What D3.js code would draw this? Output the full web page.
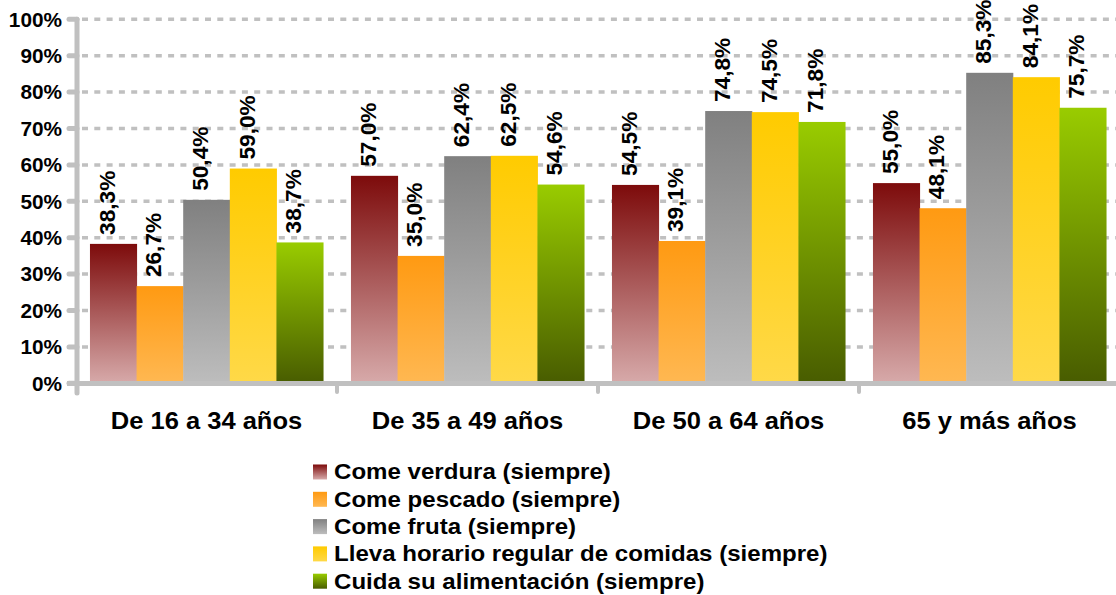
<!DOCTYPE html>
<html><head><meta charset="utf-8">
<script src="https://cdn.jsdelivr.net/npm/d3@7"></script>
<style>body{margin:0;background:#fff}svg{display:block;font-family:Arial,"Liberation Sans",sans-serif;font-weight:bold}</style>
</head><body><svg id="c" width="1116" height="595"></svg>
<script>
const categories = ["De 16 a 34 años","De 35 a 49 años","De 50 a 64 años","65 y más años"];
const seriesNames = ["Come verdura (siempre)","Come pescado (siempre)","Come fruta (siempre)","Lleva horario regular de comidas (siempre)","Cuida su alimentación (siempre)"];
const verdura = [38.3,57.0,54.5,55.0];
const pescado = [26.7,35.0,39.1,48.1];
const fruta = [50.4,62.4,74.8,85.3];
const horario = [59.0,62.5,74.5,84.1];
const cuida = [38.7,54.6,71.8,75.7];
const yTicks = [0,10,20,30,40,50,60,70,80,90,100];
const gradTop = ["#7d0b0b","#ff9a12","#808080","#ffcb00","#99cc00"];
const gradBottom = ["#d7aaaa","#ffb852","#bdbdbd","#ffd948","#485c00"];

const seriesVals = [verdura,pescado,fruta,horario,cuida];
const svg = d3.select("#c");
const defs = svg.append("defs");
seriesNames.forEach((n,i)=>{
  const g = defs.append("linearGradient").attr("id","g"+i).attr("x1",0).attr("y1",0).attr("x2",0).attr("y2",1);
  g.append("stop").attr("offset","0%").attr("stop-color",gradTop[i]);
  g.append("stop").attr("offset","100%").attr("stop-color",gradBottom[i]);
});

const x0 = d3.scaleBand().domain(categories).range([76,1120]).paddingInner(0.107).paddingOuter(0.0535);
const x1 = d3.scaleBand().domain(d3.range(5)).range([0,x0.bandwidth()]);
const y = d3.scaleLinear().domain([0,100]).range([383.3,19.3]);
const grey = "#c0c0c0";

// grid
svg.append("g").selectAll("line").data(yTicks.filter(t=>t>0)).join("line")
  .attr("x1",82).attr("x2",1116).attr("y1",d=>y(d)).attr("y2",d=>y(d))
  .attr("stroke",grey).attr("stroke-width",3.5).attr("stroke-dasharray","6,6.3");

// bars
const gs = svg.append("g").selectAll("g").data(categories).join("g")
  .attr("transform",c=>`translate(${x0(c)},0)`);
gs.each(function(c,ci){
  const g = d3.select(this);
  seriesVals.forEach((vals,si)=>{
    const v = vals[ci];
    g.append("rect").attr("x",x1(si)).attr("width",x1.bandwidth()+0.5)
      .attr("y",y(v)).attr("height",y(0)-y(v)).attr("fill",`url(#g${si})`);
    g.append("text").attr("transform",`translate(${x1(si)+x1.bandwidth()/2+1.5},${y(v)-9}) rotate(-90) scale(1.03,1)`)
      .attr("font-size",22).attr("fill","#000")
      .text(d3.format(".1f")(v).replace(".",",")+"%");
  });
});

// y axis
const ya = svg.append("g");
ya.append("line").attr("x1",77).attr("x2",77).attr("y1",y(100)).attr("y2",393)
  .attr("stroke",grey).attr("stroke-width",5).attr("stroke-linecap","round");
ya.selectAll("line.t").data(yTicks).join("line").attr("class","t")
  .attr("x1",69).attr("x2",77).attr("y1",d=>y(d)).attr("y2",d=>y(d))
  .attr("stroke",grey).attr("stroke-width",5).attr("stroke-linecap","round");
ya.selectAll("text").data(yTicks).join("text")
  .attr("transform",d=>`translate(62,${y(d)}) scale(1.04,1)`).attr("dy","0.36em").attr("text-anchor","end")
  .attr("font-size",20).attr("fill","#000").text(d=>d+"%");

// x axis
const xa = svg.append("g");
xa.append("line").attr("x1",67).attr("x2",1116).attr("y1",383.5).attr("y2",383.5)
  .attr("stroke",grey).attr("stroke-width",5);
const bounds = categories.map(c=>x0(c)-x0.step()*x0.paddingInner()/2).slice(1);
xa.selectAll("line.t").data(bounds).join("line").attr("class","t")
  .attr("x1",d=>d).attr("x2",d=>d).attr("y1",383).attr("y2",392)
  .attr("stroke",grey).attr("stroke-width",4).attr("stroke-linecap","round");
xa.selectAll("text").data(categories).join("text")
  .attr("transform",c=>`translate(${x0(c)+x0.bandwidth()/2},429) scale(1.11,1)`).attr("text-anchor","middle")
  .attr("font-size",23).attr("fill","#000").text(c=>c);

// legend
const lg = svg.append("g").selectAll("g").data(seriesNames).join("g")
  .attr("transform",(d,i)=>`translate(313,${464.5+i*27.3})`);
lg.append("rect").attr("width",14).attr("height",15).attr("fill",(d,i)=>`url(#g${i})`);
lg.append("text").attr("transform","translate(21,7.5) scale(1.12,1)").attr("dy","0.34em").attr("font-size",21.5)
  .attr("fill","#000").text(d=>d);
</script></body></html>
